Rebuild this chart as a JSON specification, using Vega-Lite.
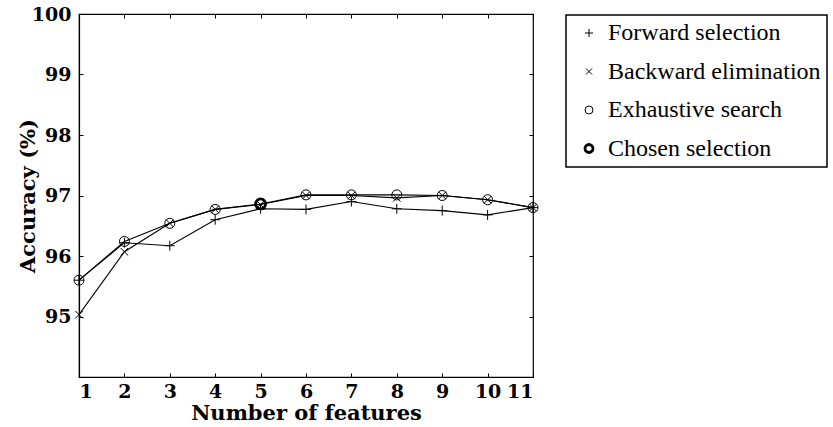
{
  "$schema": "https://vega.github.io/schema/vega-lite/v6.json",
  "width": 454,
  "height": 363,
  "autosize": {"type": "none"},
  "padding": {"left": 79, "top": 14, "right": 300, "bottom": 50},
  "background": "white",
  "data": {
    "values": [
      {"n": 1, "series": "Forward selection", "acc": 95.6},
      {"n": 2, "series": "Forward selection", "acc": 96.22},
      {"n": 3, "series": "Forward selection", "acc": 96.17},
      {"n": 4, "series": "Forward selection", "acc": 96.6},
      {"n": 5, "series": "Forward selection", "acc": 96.78},
      {"n": 6, "series": "Forward selection", "acc": 96.77},
      {"n": 7, "series": "Forward selection", "acc": 96.9},
      {"n": 8, "series": "Forward selection", "acc": 96.78},
      {"n": 9, "series": "Forward selection", "acc": 96.75},
      {"n": 10, "series": "Forward selection", "acc": 96.68},
      {"n": 11, "series": "Forward selection", "acc": 96.8},
      {"n": 1, "series": "Backward elimination", "acc": 95.03},
      {"n": 2, "series": "Backward elimination", "acc": 96.07},
      {"n": 3, "series": "Backward elimination", "acc": 96.54},
      {"n": 4, "series": "Backward elimination", "acc": 96.77},
      {"n": 5, "series": "Backward elimination", "acc": 96.85},
      {"n": 6, "series": "Backward elimination", "acc": 97.0},
      {"n": 7, "series": "Backward elimination", "acc": 97.0},
      {"n": 8, "series": "Backward elimination", "acc": 96.96},
      {"n": 9, "series": "Backward elimination", "acc": 97.0},
      {"n": 10, "series": "Backward elimination", "acc": 96.93},
      {"n": 11, "series": "Backward elimination", "acc": 96.8},
      {"n": 1, "series": "Exhaustive search", "acc": 95.6},
      {"n": 2, "series": "Exhaustive search", "acc": 96.24},
      {"n": 3, "series": "Exhaustive search", "acc": 96.54},
      {"n": 4, "series": "Exhaustive search", "acc": 96.77},
      {"n": 5, "series": "Exhaustive search", "acc": 96.86},
      {"n": 6, "series": "Exhaustive search", "acc": 97.01},
      {"n": 7, "series": "Exhaustive search", "acc": 97.01},
      {"n": 8, "series": "Exhaustive search", "acc": 97.01},
      {"n": 9, "series": "Exhaustive search", "acc": 97.0},
      {"n": 10, "series": "Exhaustive search", "acc": 96.93},
      {"n": 11, "series": "Exhaustive search", "acc": 96.8},
      {"n": 5, "series": "Chosen selection", "acc": 96.86}
    ]
  },
  "layer": [
    {
      "transform": [{"filter": "datum.series !== 'Chosen selection'"}],
      "mark": {"type": "line", "color": "black", "strokeWidth": 1.1},
      "encoding": {
        "x": {
          "field": "n", "type": "quantitative",
          "scale": {"domain": [1, 11], "nice": false, "zero": false},
          "axis": {"values": [1,2,3,4,5,6,7,8,9,10,11], "title": "Number of features", "grid": false}
        },
        "y": {
          "field": "acc", "type": "quantitative",
          "scale": {"domain": [94, 100], "nice": false, "zero": false},
          "axis": {"values": [95,96,97,98,99,100], "title": "Accuracy (%)", "grid": false}
        },
        "detail": {"field": "series"}
      }
    },
    {
      "mark": {"type": "point", "filled": false, "color": "black", "opacity": 1},
      "encoding": {
        "x": {"field": "n", "type": "quantitative", "axis": null},
        "y": {"field": "acc", "type": "quantitative", "axis": null},
        "shape": {
          "field": "series", "type": "ordinal",
          "scale": {
            "domain": ["Forward selection", "Backward elimination", "Exhaustive search", "Chosen selection"],
            "range": ["M-1,0H1M0,-1V1", "M-0.75,-0.75L0.75,0.75M-0.75,0.75L0.75,-0.75", "circle", "circle"]
          },
          "legend": {"title": null}
        },
        "strokeWidth": {
          "field": "series", "type": "ordinal",
          "scale": {
            "type": "ordinal",
            "domain": ["Forward selection", "Backward elimination", "Exhaustive search", "Chosen selection"],
            "range": [1, 1, 1, 2.8]
          },
          "legend": {"title": null}
        },
        "size": {"value": 100}
      }
    },
    {
      "mark": {"type": "point", "opacity": 0},
      "encoding": {
        "x": {"field": "n", "type": "quantitative",
          "axis": {"orient": "top", "values": [1,2,3,4,5,6,7,8,9,10,11], "labels": false, "title": null, "domain": false}},
        "y": {"field": "acc", "type": "quantitative",
          "axis": {"orient": "right", "values": [95,96,97,98,99,100], "labels": false, "title": null, "domain": false}}
      }
    }
  ],
  "resolve": {"axis": {"x": "independent", "y": "independent"}},
  "config": {
    "view": {"stroke": "black", "strokeWidth": 1.2},
    "axis": {
      "domainColor": "black",
      "domainWidth": 1.2,
      "tickColor": "black",
      "tickSize": -4,
      "grid": false,
      "labelFont": "DejaVu Serif",
      "labelFontWeight": "bold",
      "labelFontSize": 19,
      "labelColor": "black",
      "titleFont": "DejaVu Serif",
      "titleFontWeight": "bold",
      "titleFontSize": 21,
      "titleColor": "black"
    },
    "axisX": {"labelPadding": 9, "titlePadding": 1},
    "axisY": {"labelPadding": 12, "titleX": -41},
    "legend": {
      "orient": "none",
      "legendX": 487,
      "legendY": 1,
      "strokeColor": "black",
      "strokeWidth": 1.5,
      "padding": 6,
      "symbolOffset": 5,
      "rowPadding": 14.5,
      "labelFont": "Liberation Serif",
      "labelFontSize": 24,
      "labelLimit": 400,
      "labelColor": "black",
      "labelOffset": 7,
      "symbolSize": 64,
      "symbolStrokeColor": "black",
      "symbolFillColor": "transparent"
    }
  }
}
